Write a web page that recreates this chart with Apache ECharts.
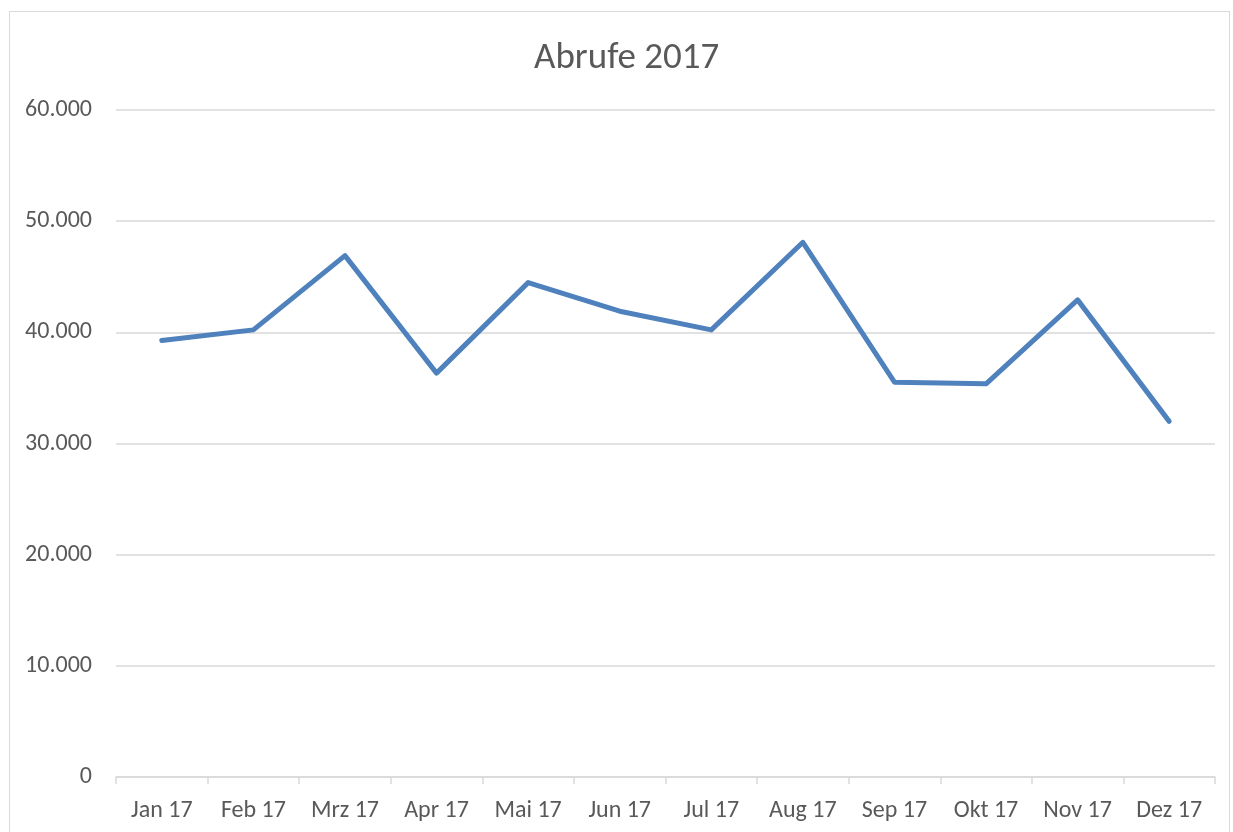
<!DOCTYPE html>
<html>
<head>
<meta charset="utf-8">
<script src="https://cdn.jsdelivr.net/npm/echarts@6/dist/echarts.min.js"></script>
<style>
  html, body { margin: 0; padding: 0; background: #fff; }
  #frame { position: absolute; left: 9px; top: 11px; width: 1221px; height: 840px; border: 1px solid #d9d9d9; box-sizing: border-box; }
  #chart { position: absolute; left: 0; top: 0; width: 1233px; height: 832px; }
</style>
</head>
<body>
<div id="frame"></div>
<div id="chart"></div>
<script>
const months = ['Jan 17', 'Feb 17', 'Mrz 17', 'Apr 17', 'Mai 17', 'Jun 17', 'Jul 17', 'Aug 17', 'Sep 17', 'Okt 17', 'Nov 17', 'Dez 17']
const abrufe = [39260, 40220, 46900, 36330, 44470, 41900, 40220, 48100, 35520, 35370, 42920, 31990]
const yTicks = [0, 10000, 20000, 30000, 40000, 50000, 60000]

const labelFont = "Calibri, Carlito, sans-serif"

let chart = echarts.init(document.getElementById('chart'))
chart.setOption({
    animation: false,
    title: {
        text: 'Abrufe 2017',
        left: 529,
        top: 35,
        textStyle: {
            fontFamily: labelFont,
            fontSize: 37,
            fontWeight: 'normal',
            color: '#595959'
        }
    },
    grid: {
        left: 116,
        right: 18,
        top: 110,
        bottom: 55
    },
    xAxis: {
        type: 'category',
        data: months,
        boundaryGap: true,
        axisLine: { lineStyle: { color: '#d9d9d9', width: 1.5 } },
        axisTick: { show: true, interval: 0, length: 7, lineStyle: { color: '#d9d9d9', width: 1.5 } },
        axisLabel: {
            interval: 0,
            margin: 22,
            fontFamily: labelFont,
            fontSize: 24,
            color: '#595959'
        }
    },
    yAxis: {
        type: 'value',
        min: yTicks[0],
        max: yTicks[yTicks.length - 1],
        interval: 10000,
        axisLine: { show: false },
        axisTick: { show: false },
        splitLine: { lineStyle: { color: '#d9d9d9', width: 1.5 } },
        axisLabel: {
            margin: 24,
            fontFamily: labelFont,
            fontSize: 24,
            color: '#595959',
            formatter: v => v === 0 ? '0' : v.toLocaleString('de-DE')
        }
    },
    series: [
        {
            name: 'Abrufe',
            type: 'line',
            data: abrufe,
            symbol: 'none',
            lineStyle: { color: '#4f81bd', width: 5, cap: 'round', join: 'round' }
        }
    ]
})
</script>
</body>
</html>
